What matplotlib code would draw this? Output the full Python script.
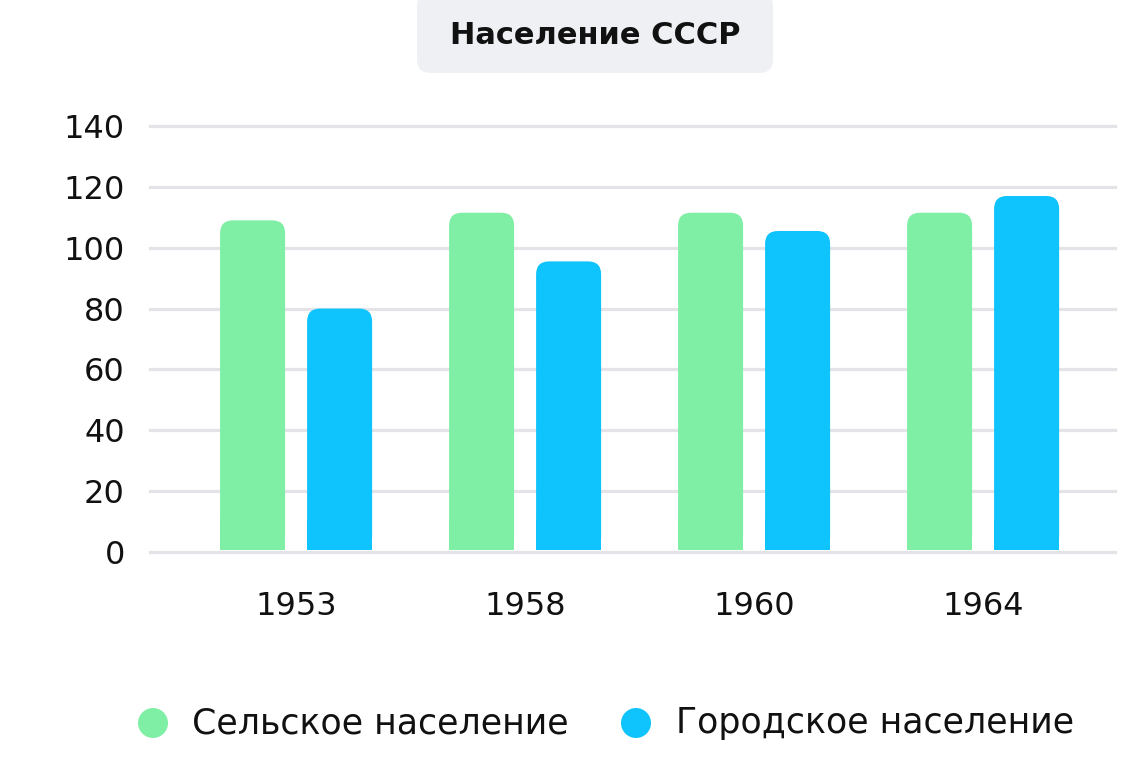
import matplotlib.pyplot as plt
from matplotlib.patches import FancyBboxPatch, Rectangle, Ellipse
import numpy as np

years = ['1953', '1958', '1960', '1964']
rural = [109, 111.5, 111.5, 111.5]
urban = [80, 95.5, 105.5, 117]
series_names = ['Сельское население', 'Городское население']
colors = ['#80efa6', '#0fc3fd']
y_ticks = [0, 20, 40, 60, 80, 100, 120, 140]

plt.rcParams['font.family'] = ['DejaVu Sans']

fig = plt.figure(figsize=(11.4, 7.7), dpi=100)
W, H = 1140, 770
ax = fig.add_axes([150 / W, 218 / H, 965 / W, 426 / H])

x = np.arange(len(years))
width = 0.284
offset = 0.19

bars_r = ax.bar(x - offset, rural, width, color='none')
bars_u = ax.bar(x + offset, urban, width, color='none')

# pixel size of one data unit, for round corners
px_x = 965 / (3.576 + 0.638)
px_y = 426 / 140
aspect = px_x / px_y
radius = 13 / px_x

for bars, col in [(bars_r, colors[0]), (bars_u, colors[1])]:
    for b in bars:
        bx, bw, bh = b.get_x(), b.get_width(), b.get_height()
        top = FancyBboxPatch((bx, 0.8), bw, bh - 0.8,
                             boxstyle=f'round,pad=0,rounding_size={radius}',
                             mutation_aspect=aspect, fc=col, ec='none', zorder=3)
        ax.add_patch(top)
        ax.add_patch(Rectangle((bx, 0.8), bw, 10, fc=col, ec='none', zorder=3))

ax.set_xlim(-0.638, 3.576)
ax.set_ylim(0, 140)
ax.set_yticks(y_ticks)
ax.set_yticklabels([str(v) for v in y_ticks], fontsize=23, color='#111111')
ax.set_xticks(x)
ax.set_xticklabels(years, fontsize=23, color='#111111')
ax.tick_params(axis='y', length=0, pad=18)
ax.tick_params(axis='x', length=0, pad=28)
ax.grid(axis='y', color='#e4e4e8', linewidth=2.3, zorder=0)
ax.set_axisbelow(True)
for s in ax.spines.values():
    s.set_visible(False)
for line in ax.get_ygridlines():
    line.set_clip_on(False)

# title in a rounded grey box
box = FancyBboxPatch((417 / W, 1 - 73 / H), 356 / W, 80 / H,
                     boxstyle='round,pad=0,rounding_size=0.012',
                     transform=fig.transFigure, fc='#eef0f3', ec='none',
                     mutation_aspect=W / H)
fig.patches.append(box)
fig.text(595 / W, 1 - 36 / H, 'Население СССР', ha='center', va='center',
         fontsize=22, fontweight='bold', color='#111111')

# legend
for cx, tx, name, col in [(153, 192, series_names[0], colors[0]),
                          (636, 676, series_names[1], colors[1])]:
    fig.patches.append(Ellipse((cx / W, 1 - 723 / H), 30 / W, 30 / H,
                               transform=fig.transFigure, fc=col, ec='none'))
    fig.text(tx / W, 1 - 723 / H, name, ha='left', va='center',
             fontsize=25, color='#111111')

fig.savefig('out.png', dpi=100)
